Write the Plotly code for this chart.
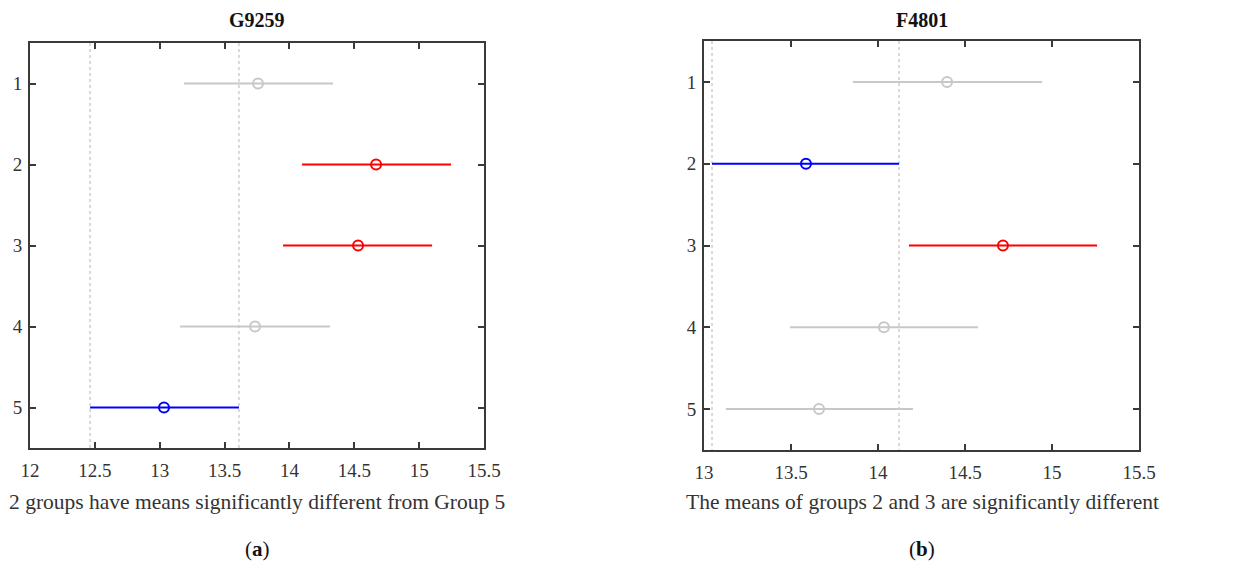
import plotly.graph_objects as go

groups = [1, 2, 3, 4, 5]

# Panel (a) G9259
a_mean = [13.758, 14.668, 14.529, 13.735, 13.033]
a_low = [13.187, 14.097, 13.951, 13.157, 12.463]
a_high = [14.336, 15.246, 15.100, 14.313, 13.611]
a_color = ["#c8c8c8", "#ff0000", "#ff0000", "#c8c8c8", "#0000ff"]
a_ref = 5
a_xticks = [12, 12.5, 13, 13.5, 14, 14.5, 15, 15.5]
a_ticklabels = ["12", "12.5", "13", "13.5", "14", "14.5", "15", "15.5"]

# Panel (b) F4801
b_mean = [14.397, 13.586, 14.718, 14.034, 13.661]
b_low = [13.856, 13.046, 14.178, 13.494, 13.126]
b_high = [14.943, 14.121, 15.259, 14.575, 14.201]
b_color = ["#c8c8c8", "#0000ff", "#ff0000", "#c8c8c8", "#c8c8c8"]
b_ref = 2
b_xticks = [13, 13.5, 14, 14.5, 15, 15.5]
b_ticklabels = ["13", "13.5", "14", "14.5", "15", "15.5"]

titles = ["G9259", "F4801"]
captions = ["2 groups have means significantly different from Group 5",
            "The means of groups 2 and 3 are significantly different"]
panel_labels = ["(<b>a</b>)", "(<b>b</b>)"]

FONT = "Liberation Serif"
AXC = "#3a3a3a"
W, H = 1258, 568
OFF = 8  # page body margin


def px(x):
    return (x - OFF) / W


def py(y):
    return 1 - (y - OFF) / H


fig = go.Figure()

panels = [
    (a_mean, a_low, a_high, a_color, a_ref, "x", "y"),
    (b_mean, b_low, b_high, b_color, b_ref, "x2", "y2"),
]

for (mean, low, high, colors, ref, xa, ya) in panels:
    i = ref - 1
    for xv in (low[i], high[i]):
        fig.add_trace(go.Scatter(x=[xv, xv], y=[0.5, 5.5], mode="lines",
                                 line=dict(color="#b4b4b4", width=1, dash="dot"),
                                 xaxis=xa, yaxis=ya, showlegend=False, hoverinfo="skip"))
    for g, m, lo, hi, c in zip(groups, mean, low, high, colors):
        fig.add_trace(go.Scatter(x=[lo, hi], y=[g, g], mode="lines",
                                 line=dict(color=c, width=2),
                                 xaxis=xa, yaxis=ya, showlegend=False))
        fig.add_trace(go.Scatter(x=[m], y=[g], mode="markers",
                                 marker=dict(symbol="circle-open", size=10, color=c,
                                             line=dict(color=c, width=2)),
                                 xaxis=xa, yaxis=ya, showlegend=False))


def xaxis_cfg(domain, rng, tv, tt, anchor):
    return dict(domain=domain, range=rng, tickvals=tv, ticktext=tt, anchor=anchor,
                automargin=False,
                showgrid=False, zeroline=False, showline=True, linecolor=AXC, linewidth=2,
                mirror="ticks", ticks="inside", ticklen=6, tickwidth=2, tickcolor=AXC,
                tickfont=dict(family=FONT, size=19, color="#333333"), ticklabelstandoff=4)


def yaxis_cfg(domain, anchor):
    return dict(domain=domain, range=[5.5, 0.5], tickvals=groups,
                ticktext=[str(g) for g in groups], anchor=anchor,
                automargin=False,
                showgrid=False, zeroline=False, showline=True, linecolor=AXC, linewidth=2,
                mirror="ticks", ticks="inside", ticklen=6, tickwidth=2, tickcolor=AXC,
                tickfont=dict(family=FONT, size=19, color="#333333"), ticklabelstandoff=2)


fig.update_layout(
    width=W, height=H, autosize=False,
    margin=dict(l=0, r=0, t=0, b=0, pad=0),
    plot_bgcolor="white", paper_bgcolor="white",
    xaxis=xaxis_cfg([px(30), px(484)], [12, 15.5], a_xticks, a_ticklabels, "y"),
    yaxis=yaxis_cfg([py(448), py(43)], "x"),
    xaxis2=xaxis_cfg([px(704), px(1139)], [13, 15.5], b_xticks, b_ticklabels, "y2"),
    yaxis2=yaxis_cfg([py(450), py(41)], "x2"),
)

centers = [257, 922]
for k in range(2):
    fig.add_annotation(text="<b>" + titles[k] + "</b>", x=px(centers[k]), y=py(20),
                       xref="paper", yref="paper", showarrow=False,
                       xanchor="center", yanchor="middle",
                       font=dict(family=FONT, size=20, color="#111111"))
    fig.add_annotation(text=captions[k], x=px(centers[k]), y=py(502),
                       xref="paper", yref="paper", showarrow=False,
                       xanchor="center", yanchor="middle",
                       font=dict(family=FONT, size=21.5, color="#333333"))
    fig.add_annotation(text=panel_labels[k], x=px(centers[k]), y=py(549),
                       xref="paper", yref="paper", showarrow=False,
                       xanchor="center", yanchor="middle",
                       font=dict(family=FONT, size=21, color="#111111"))

fig.write_html("out.html")
